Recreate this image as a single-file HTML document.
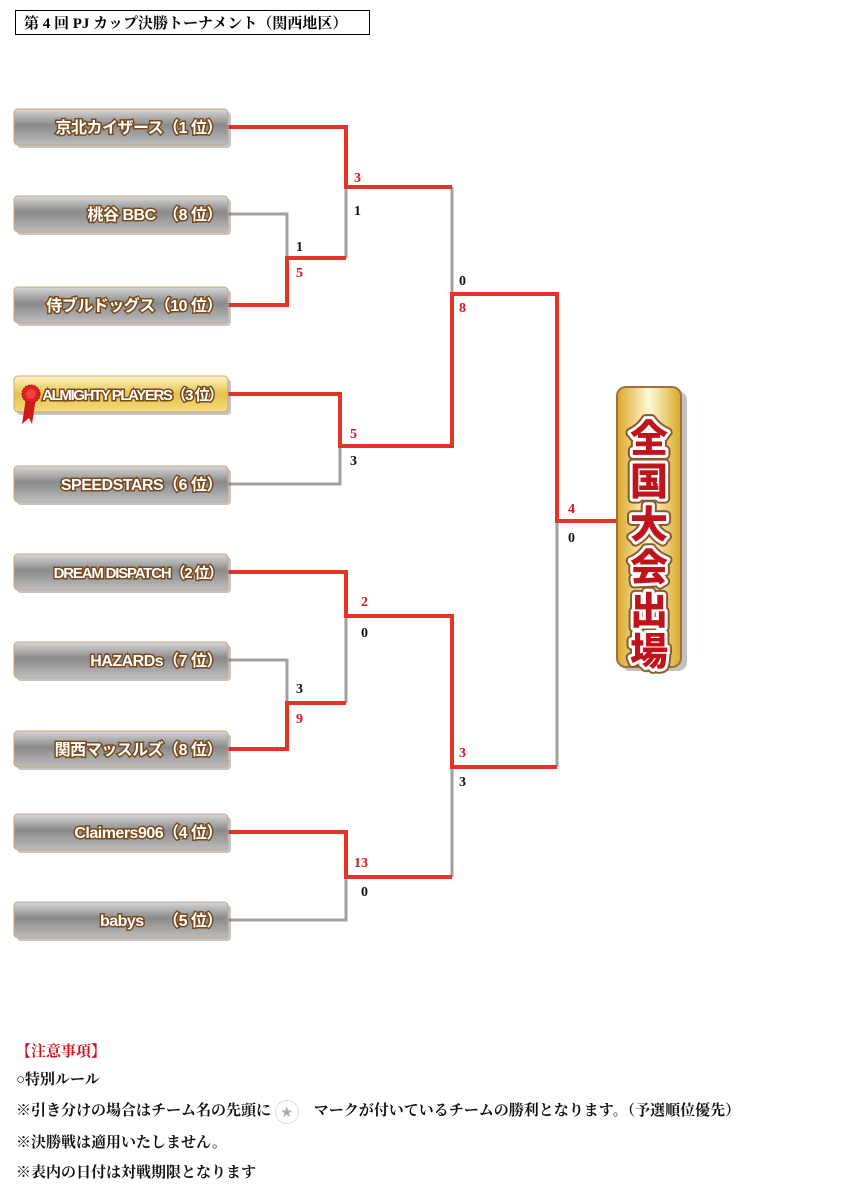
<!DOCTYPE html>
<html><head><meta charset="utf-8"><style>
body{margin:0;background:#fff;width:850px;height:1197px;overflow:hidden;font-family:"Liberation Serif","Noto Serif CJK SC",serif}
svg{position:absolute;left:0;top:0}
.t{font-family:"Liberation Sans","Noto Sans CJK JP",sans-serif;font-weight:bold;font-size:16px;fill:#fff;stroke:#7a4a1c;stroke-width:3px;paint-order:stroke;text-anchor:end;letter-spacing:-0.5px}
.n{font-family:"Liberation Serif",serif;font-weight:bold;font-size:14px}
.r{fill:#e0101a}.b{fill:#111}
.note{position:absolute;left:16px;font-family:"Liberation Serif","Noto Serif CJK JP",serif;font-weight:bold;font-size:15px;color:#111;white-space:nowrap}
</style></head><body>
<svg width="850" height="1197">
<defs>
<linearGradient id="g" x1="0" y1="0" x2="0" y2="1"><stop offset="0" stop-color="#d8d8d8"/><stop offset=".45" stop-color="#8a8a8a"/><stop offset="1" stop-color="#bdbdbd"/></linearGradient>
<linearGradient id="gy" x1="0" y1="0" x2="0" y2="1"><stop offset="0" stop-color="#fff6c8"/><stop offset=".5" stop-color="#e6c24a"/><stop offset="1" stop-color="#f3dc80"/></linearGradient>
<linearGradient id="gf" x1="0" y1="0" x2="1" y2="0"><stop offset="0" stop-color="#d9a92a"/><stop offset=".5" stop-color="#fff8d6"/><stop offset="1" stop-color="#d9a92a"/></linearGradient>
</defs>
<rect x="15.5" y="10.5" width="354" height="24" fill="#fff" stroke="#000"/>
<text x="24" y="28" font-size="15" font-weight="bold" font-family="Liberation Serif,Noto Serif CJK JP,serif">第 4 回 PJ カップ決勝トーナメント（関西地区）</text>

<g fill="none" stroke-width="4">
<g stroke="#a0a0a0" stroke-width="3">
<path d="M228 214H287V258"/><path d="M346 187V258"/><path d="M452 187V294"/>
<path d="M228 484H340V446"/><path d="M557 521V767"/>
<path d="M228 660H287V703"/><path d="M346 616V703"/><path d="M452 767V877"/>
<path d="M228 920H346V877"/>
</g>
<g stroke="#e3342a">
<path d="M228 127H346V187H452"/><path d="M228 305H287V258H346"/>
<path d="M228 394H340V446H452V294H557V521H617"/>
<path d="M228 572H346V616H452V767H557"/><path d="M228 749H287V703H346"/>
<path d="M228 832H346V877H452"/>
</g>
</g>

<g class="n">
<text class="r" x="354" y="182">3</text><text class="b" x="354" y="215">1</text>
<text class="b" x="296" y="251">1</text><text class="r" x="296" y="277">5</text>
<text class="b" x="459" y="285">0</text><text class="r" x="459" y="312">8</text>
<text class="r" x="350" y="438">5</text><text class="b" x="350" y="465">3</text>
<text class="r" x="568" y="513">4</text><text class="b" x="568" y="542">0</text>
<text class="r" x="361" y="606">2</text><text class="b" x="361" y="637">0</text>
<text class="b" x="296" y="693">3</text><text class="r" x="296" y="723">9</text>
<text class="r" x="459" y="757">3</text><text class="b" x="459" y="786">3</text>
<text class="r" x="354" y="867">13</text><text class="b" x="361" y="896">0</text>
</g>

<g>
<g transform="translate(0,127)"><rect x="17" y="-15" width="214" height="36" rx="4" fill="#555" opacity=".35"/><rect x="14" y="-18" width="214" height="36" rx="4" fill="url(#g)" stroke="#c9a583"/><text class="t" x="222" y="6">京北カイザース（1 位）</text></g>
<g transform="translate(0,214)"><rect x="17" y="-15" width="214" height="36" rx="4" fill="#555" opacity=".35"/><rect x="14" y="-18" width="214" height="36" rx="4" fill="url(#g)" stroke="#c9a583"/><text class="t" x="222" y="6">桃谷 BBC　（8 位）</text></g>
<g transform="translate(0,305)"><rect x="17" y="-15" width="214" height="36" rx="4" fill="#555" opacity=".35"/><rect x="14" y="-18" width="214" height="36" rx="4" fill="url(#g)" stroke="#c9a583"/><text class="t" x="222" y="6">侍ブルドッグス（10 位）</text></g>
<g transform="translate(0,394)"><rect x="17" y="-15" width="214" height="36" rx="4" fill="#555" opacity=".35"/><rect x="14" y="-18" width="214" height="36" rx="4" fill="url(#gy)" stroke="#c9a583"/><text class="t" x="222" y="6" style="font-size:15px;letter-spacing:-1.4px">ALMIGHTY PLAYERS（3 位）</text>
<path d="M26 4L22 30L29 24L32 30L36 4Z" fill="#d01a1a"/><circle cx="31" cy="0" r="9" fill="#e02020" stroke="#a01010" stroke-dasharray="2 1"/><circle cx="31" cy="0" r="5" fill="#f04040"/></g>
<g transform="translate(0,484)"><rect x="17" y="-15" width="214" height="36" rx="4" fill="#555" opacity=".35"/><rect x="14" y="-18" width="214" height="36" rx="4" fill="url(#g)" stroke="#c9a583"/><text class="t" x="222" y="6">SPEEDSTARS（6 位）</text></g>
<g transform="translate(0,572)"><rect x="17" y="-15" width="214" height="36" rx="4" fill="#555" opacity=".35"/><rect x="14" y="-18" width="214" height="36" rx="4" fill="url(#g)" stroke="#c9a583"/><text class="t" x="222" y="6" style="font-size:15px;letter-spacing:-1.2px">DREAM DISPATCH（2 位）</text></g>
<g transform="translate(0,660)"><rect x="17" y="-15" width="214" height="36" rx="4" fill="#555" opacity=".35"/><rect x="14" y="-18" width="214" height="36" rx="4" fill="url(#g)" stroke="#c9a583"/><text class="t" x="222" y="6">HAZARDs（7 位）</text></g>
<g transform="translate(0,749)"><rect x="17" y="-15" width="214" height="36" rx="4" fill="#555" opacity=".35"/><rect x="14" y="-18" width="214" height="36" rx="4" fill="url(#g)" stroke="#c9a583"/><text class="t" x="222" y="6">関西マッスルズ（8 位）</text></g>
<g transform="translate(0,832)"><rect x="17" y="-15" width="214" height="36" rx="4" fill="#555" opacity=".35"/><rect x="14" y="-18" width="214" height="36" rx="4" fill="url(#g)" stroke="#c9a583"/><text class="t" x="222" y="6">Claimers906（4 位）</text></g>
<g transform="translate(0,920)"><rect x="17" y="-15" width="214" height="36" rx="4" fill="#555" opacity=".35"/><rect x="14" y="-18" width="214" height="36" rx="4" fill="url(#g)" stroke="#c9a583"/><text class="t" x="222" y="6">babys　  （5 位）</text></g>
</g>

<rect x="621" y="391" width="66" height="280" rx="9" fill="#666" opacity=".4"/>
<rect x="617" y="387" width="64" height="280" rx="9" fill="url(#gf)" stroke="#a0703a" stroke-width="2"/>
<g font-family="Noto Sans CJK JP,sans-serif" font-weight="900" font-size="38" text-anchor="middle">
<g fill="none" stroke="#8a5a2a" stroke-width="10" stroke-linejoin="round">
<text x="649" y="452">全</text><text x="649" y="495">国</text><text x="649" y="538">大</text><text x="649" y="581">会</text><text x="649" y="624">出</text><text x="649" y="665">場</text></g>
<g fill="#c0141c" stroke="#fff" stroke-width="6" paint-order="stroke" stroke-linejoin="round">
<text x="649" y="452">全</text><text x="649" y="495">国</text><text x="649" y="538">大</text><text x="649" y="581">会</text><text x="649" y="624">出</text><text x="649" y="665">場</text></g>
</g>
</svg>
<div class="note" style="top:1040px;color:#c8101a">【注意事項】</div>
<div class="note" style="top:1068px">○特別ルール</div>
<div class="note" style="top:1099px">※引き分けの場合はチーム名の先頭に <span style="display:inline-block;width:22px;height:22px;border:1px dotted #bbb;border-radius:50%;vertical-align:middle;text-align:center;line-height:22px;color:#aaa;font-size:12px">★</span>　マークが付いているチームの勝利となります。（予選順位優先）</div>
<div class="note" style="top:1131px">※決勝戦は適用いたしません。</div>
<div class="note" style="top:1161px">※表内の日付は対戦期限となります</div>
</body></html>
